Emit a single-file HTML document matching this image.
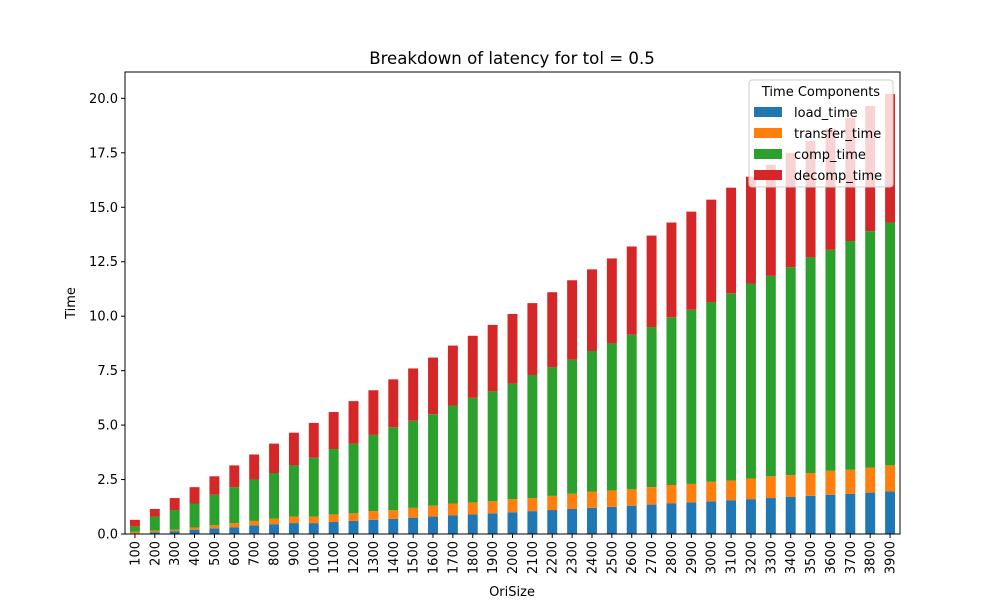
<!DOCTYPE html>
<html><head><meta charset="utf-8"><style>
body{margin:0;background:#fff}
svg text{font-family:"DejaVu Sans","Liberation Sans",sans-serif;fill:#000}
</style></head><body>
<svg id="chart" width="1000" height="600" xmlns="http://www.w3.org/2000/svg"></svg>
<script>
const categories=[100,200,300,400,500,600,700,800,900,1000,1100,1200,1300,1400,1500,1600,1700,1800,1900,2000,2100,2200,2300,2400,2500,2600,2700,2800,2900,3000,3100,3200,3300,3400,3500,3600,3700,3800,3900];
const loadTime=[0.03,0.08,0.13,0.2,0.25,0.3,0.4,0.45,0.5,0.5,0.55,0.6,0.65,0.7,0.75,0.8,0.85,0.9,0.95,1.0,1.05,1.1,1.15,1.2,1.25,1.3,1.35,1.4,1.45,1.5,1.55,1.6,1.65,1.7,1.75,1.8,1.85,1.9,1.95];
const transferTime=[0.07,0.07,0.07,0.1,0.15,0.2,0.2,0.25,0.3,0.3,0.35,0.35,0.4,0.4,0.45,0.5,0.55,0.55,0.55,0.6,0.6,0.65,0.7,0.75,0.75,0.75,0.8,0.85,0.85,0.9,0.9,0.95,1.0,1.0,1.05,1.1,1.1,1.15,1.2];
const compTime=[0.25,0.65,0.9,1.1,1.4,1.65,1.9,2.1,2.35,2.7,3.0,3.2,3.5,3.8,4.0,4.2,4.5,4.8,5.05,5.3,5.65,5.9,6.15,6.45,6.75,7.1,7.35,7.7,8.0,8.25,8.6,8.95,9.2,9.55,9.9,10.15,10.5,10.85,11.15];
const decompTime=[0.3,0.35,0.55,0.75,0.85,1.0,1.15,1.35,1.5,1.6,1.7,1.95,2.05,2.2,2.4,2.6,2.75,2.85,3.05,3.2,3.3,3.45,3.65,3.75,3.9,4.05,4.2,4.35,4.5,4.7,4.85,4.9,5.1,5.25,5.35,5.55,5.65,5.75,5.9];
const yTicks=[0,2.5,5,7.5,10,12.5,15,17.5,20];
const yTickLabels=["0.0","2.5","5.0","7.5","10.0","12.5","15.0","17.5","20.0"];
const seriesNames=["load_time","transfer_time","comp_time","decomp_time"];
const seriesColors=["#1f77b4","#ff7f0e","#2ca02c","#d62728"];

const NS="http://www.w3.org/2000/svg";
const svg=document.getElementById('chart');
const L=125,R=900,T=72,B=534;
const series=[loadTime,transferTime,compTime,decompTime];
const totals=categories.map((c,i)=>series.reduce((s,a)=>s+a[i],0));
const yMax=Math.max(...totals)*1.05;
const y=v=>B-(v/yMax)*(B-T);
const step=(R-L)/categories.length;
const x=i=>L+(i+0.5)*step;
function el(tag,attrs,parent){const e=document.createElementNS(NS,tag);for(const k in attrs)e.setAttribute(k,attrs[k]);(parent||svg).appendChild(e);return e;}

const title=el('text',{x:512,y:64,'text-anchor':'middle','font-size':16.6});
title.textContent='Breakdown of latency for tol = 0.5';



const bars=el('g',{});


categories.forEach((c,i)=>{
  let base=0;
  series.forEach((s,k)=>{
    const r=el('rect',{x:x(i)-step*0.25,y:y(base+s[i]),width:step*0.5,height:y(base)-y(base+s[i]),fill:seriesColors[k]},bars);
    
    
    base+=s[i];
  });
});

const axes=el('g',{});


el('rect',{x:L,y:T,width:R-L,height:B-T,fill:'none',stroke:'#000','stroke-width':1},axes);
yTicks.forEach((t,i)=>{
  el('line',{x1:L-4,x2:L,y1:y(t),y2:y(t),stroke:'#000'},axes);
  const tx=el('text',{x:L-7,y:y(t)+4.5,'text-anchor':'end','font-size':13},axes);
  tx.textContent=yTickLabels[i];
  
  
});
categories.forEach((c,i)=>{
  el('line',{x1:x(i),x2:x(i),y1:B,y2:B+4,stroke:'#000'},axes);
  const tx=el('text',{transform:`translate(${x(i)+4.5},${B+7}) rotate(-90)`,'text-anchor':'end','font-size':13},axes);
  tx.textContent=c;
  
  
});
const xt=el('text',{x:512,y:596,'text-anchor':'middle','font-size':13});
xt.textContent='OriSize';


const yt=el('text',{transform:'translate(75,303) rotate(-90)','text-anchor':'middle','font-size':13});
yt.textContent='Time';



const lg=el('g',{});


el('rect',{x:749,y:80,width:144,height:107,rx:3,fill:'#fff','fill-opacity':0.8,stroke:'#ccc'},lg);
const lt=el('text',{x:821,y:96,'text-anchor':'middle','font-size':13},lg);
lt.textContent='Time Components';
seriesNames.forEach((n,k)=>{
  const yy=117+k*21;
  el('rect',{x:754,y:yy-10,width:28,height:10,fill:seriesColors[k]},lg);
  const t=el('text',{x:794,y:yy,'font-size':13},lg);
  t.textContent=n;
  
  
});
</script>
</body></html>
